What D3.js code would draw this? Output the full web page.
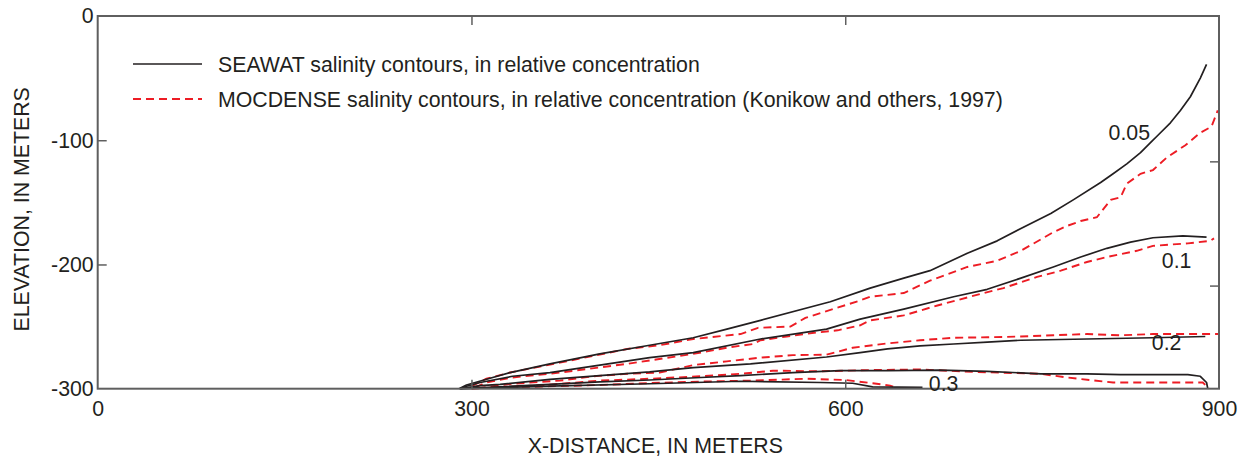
<!DOCTYPE html>
<html>
<head>
<meta charset="utf-8">
<script src="https://cdn.jsdelivr.net/npm/d3@7"></script>
<style>
  html, body { margin: 0; padding: 0; background: #fff; }
  svg { display: block; font-family: "Liberation Sans", Arial, sans-serif; }
</style>
</head>
<body>
<svg id="chart" width="1243" height="458"></svg>
<script>
// ---------- DATA ----------
const xTickValues = [0, 300, 600, 900];
const yTickValues = [0, -100, -200, -300];
const rightTickValues = [-117, -217];
const innerXTickValues = [300, 600];
const innerYTickValues = [-100, -200];

const contourLevels = ["0.05", "0.1", "0.2", "", "0.3"];
const labelAnchors = [[828, -94], [866, -197], [858, -263], null, [679, -296]];

const seawat005 = [[290,-300],[296,-297],[310,-293],[331,-287],[363,-280],[403,-272],[443,-265],[478,-259],[505,-252],[532,-245],[588,-230],[620,-219],[647,-211],[668,-205],[698,-191],[722,-181],[741,-171],[765,-159],[783,-148],[805,-134],[815,-127],[826,-119],[837,-110],[845,-102],[851,-96],[861,-86],[869,-76],[877,-65],[885,-50],[890,-39]];
const seawat01 = [[291,-300],[296,-298],[307,-295],[333,-290],[363,-287],[403,-281],[443,-275],[478,-271],[532,-260],[585,-252],[612,-244],[647,-236],[687,-226],[714,-220],[741,-211],[767,-202],[789,-194],[810,-187],[829,-182],[847,-178.5],[871,-177],[890,-178]];
const seawat02 = [[291,-300],[307,-297.5],[323,-296.5],[363,-292.5],[403,-289.5],[443,-286.5],[478,-283],[524,-280],[585,-274.5],[612,-271],[634,-268],[660,-265.5],[687,-264],[714,-262.5],[741,-261],[794,-260],[847,-259],[889,-258]];
const seawat025 = [[291,-300],[323,-298.5],[363,-296.5],[403,-294.5],[443,-293],[484,-291],[516,-289.5],[558,-287],[596,-285.5],[634,-285.5],[676,-285],[714,-286],[757,-288],[794,-288],[821,-288.6],[847,-288.6],[875,-288.6],[885,-290],[890,-295],[891,-300]];
const seawat03 = [[291,-300],[363,-298],[443,-296],[516,-294],[580,-295],[606,-295.6],[622,-298.5],[662,-299]];

const mocdense005 = [[300,-298],[312,-292],[331,-287],[371,-279],[425,-268],[451,-265],[478,-260],[516,-256],[530,-251],[556,-250],[568,-243],[590,-236],[612,-229],[620,-226],[647,-223],[668,-213],[698,-202],[722,-197],[741,-189],[767,-174],[778,-169],[789,-165],[802,-162],[813,-148],[821,-146],[826,-135],[837,-127],[847,-124],[858,-114],[873,-104],[885,-94],[894,-89],[899,-76]];
const mocdense01 = [[303,-299],[312,-295],[333,-291],[371,-287],[425,-280],[478,-272],[505,-267],[526,-264],[532,-261],[553,-258],[575,-255],[594,-253],[612,-249],[620,-245],[647,-241],[674,-233],[700,-226],[727,-219],[754,-210],[773,-205],[794,-198],[810,-194],[834,-189],[847,-185],[875,-183],[893,-181],[896,-179]];
const mocdense02 = [[305,-299.5],[333,-296],[371,-293.5],[398,-290],[425,-288],[451,-287],[478,-281],[505,-278],[532,-275],[558,-273],[585,-272.6],[606,-267],[634,-263.5],[660,-261],[687,-259],[714,-258.6],[741,-258],[767,-257],[794,-256],[821,-257],[847,-256],[875,-256],[900,-256]];
const mocdense025 = [[300,-300],[360,-297],[403,-293.5],[443,-292],[484,-290],[516,-288],[542,-285.5],[580,-286],[620,-285],[660,-284.5],[703,-286.5],[757,-288],[778,-291],[815,-295],[887,-295],[892,-300]];
const mocdense03 = [[330,-299],[403,-297],[443,-295.5],[484,-294.3],[524,-293.5],[569,-292],[600,-293],[622,-295.6],[636,-297.5],[640,-299]];

const seawatSeries = [seawat005, seawat01, seawat02, seawat025, seawat03];
const mocdenseSeries = [mocdense005, mocdense01, mocdense02, mocdense025, mocdense03];

const legendLabels = [
  "SEAWAT salinity contours, in relative concentration",
  "MOCDENSE salinity contours, in relative concentration (Konikow and others, 1997)"
];
const xTitle = "X-DISTANCE, IN METERS";
const yTitle = "ELEVATION, IN METERS";

// ---------- DRAW ----------
const FONT = "21.3px";
const svg = d3.select("#chart");
const margin = { left: 97.7, right: 1219, top: 16, bottom: 388.7 };
const x = d3.scaleLinear().domain([0, 900]).range([margin.left, margin.right]);
const y = d3.scaleLinear().domain([-300, 0]).range([margin.bottom, margin.top]);

const textColor = "#231f20";
const frameColor = "#5f5f5f";
const blackLine = "#231f20";
const redLine = "#ed1c24";

const line = d3.line().x(d => x(d[0])).y(d => y(d[1])).curve(d3.curveLinear);

// Contours: red dashed first, then black on top
svg.append("g").selectAll("path").data(mocdenseSeries).join("path")
  .attr("d", line).attr("fill", "none").attr("stroke", redLine)
  .attr("stroke-width", 1.9).attr("stroke-dasharray", "8,5");
svg.append("g").selectAll("path").data(seawatSeries).join("path")
  .attr("d", line).attr("fill", "none").attr("stroke", blackLine)
  .attr("stroke-width", 1.7).attr("stroke-linejoin", "round");

// Frame
svg.append("rect")
  .attr("x", x(0)).attr("y", y(0))
  .attr("width", x(900) - x(0)).attr("height", y(-300) - y(0))
  .attr("fill", "none").attr("stroke", frameColor).attr("stroke-width", 2);

// Axes
const fmt = d => String(d);
function styleAxis(g) {
  g.select(".domain").remove();
  g.selectAll(".tick line").attr("stroke", frameColor).attr("stroke-width", 1.5);
  g.selectAll(".tick text").attr("fill", textColor).style("font-size", FONT)
    .style("font-family", "'Liberation Sans', Arial, sans-serif");
}

svg.append("g").attr("transform", `translate(${x(0)},0)`)
  .call(d3.axisLeft(y).tickValues(yTickValues).tickSize(0).tickPadding(4).tickFormat(fmt))
  .call(styleAxis);
svg.append("g").attr("transform", `translate(${x(0)},0)`)
  .call(d3.axisLeft(y).tickValues(innerYTickValues).tickSize(-9).tickFormat(""))
  .call(styleAxis);
svg.append("g").attr("transform", `translate(${x(900)},0)`)
  .call(d3.axisRight(y).tickValues(rightTickValues).tickSize(-9).tickFormat(""))
  .call(styleAxis);

svg.append("g").attr("transform", `translate(0,${y(-300)})`)
  .call(d3.axisBottom(x).tickValues(xTickValues).tickSize(0).tickPadding(12).tickFormat(fmt))
  .call(styleAxis);
svg.append("g").attr("transform", `translate(0,${y(-300)})`)
  .call(d3.axisBottom(x).tickValues(innerXTickValues).tickSize(-9).tickFormat(""))
  .call(styleAxis);
svg.append("g").attr("transform", `translate(0,${y(0)})`)
  .call(d3.axisTop(x).tickValues(innerXTickValues).tickSize(-9).tickFormat(""))
  .call(styleAxis);

// Axis titles
svg.append("text")
  .attr("x", (x(0) + x(900)) / 2 - 3).attr("y", 453)
  .attr("text-anchor", "middle").attr("fill", textColor)
  .style("font-size", FONT).text(xTitle);
svg.append("text")
  .attr("transform", `translate(29,${(y(0) + y(-300)) / 2 + 7}) rotate(-90)`)
  .attr("text-anchor", "middle").attr("fill", textColor)
  .style("font-size", FONT).text(yTitle);

// Legend
const legend = svg.append("g");
const legendRows = [
  { label: legendLabels[0], color: blackLine, dash: null, w: 1.7 },
  { label: legendLabels[1], color: redLine, dash: "8,5", w: 1.9 }
];
legendRows.forEach((r, i) => {
  const cy = 64 + i * 35;
  legend.append("line").attr("x1", 133).attr("x2", 202).attr("y1", cy).attr("y2", cy)
    .attr("stroke", r.color).attr("stroke-width", r.w)
    .attr("stroke-dasharray", r.dash);
  legend.append("text").attr("x", 218).attr("y", cy).attr("dy", "0.36em")
    .attr("fill", textColor).style("font-size", FONT).text(r.label);
});

// Contour labels
svg.append("g").selectAll("text")
  .data(contourLevels.map((t, i) => ({ t, p: labelAnchors[i] })).filter(d => d.t && d.p))
  .join("text")
  .attr("x", d => x(d.p[0])).attr("y", d => y(d.p[1]))
  .attr("dy", "0.36em").attr("text-anchor", "middle")
  .attr("fill", textColor).style("font-size", FONT)
  .text(d => d.t);
</script>
</body>
</html>
